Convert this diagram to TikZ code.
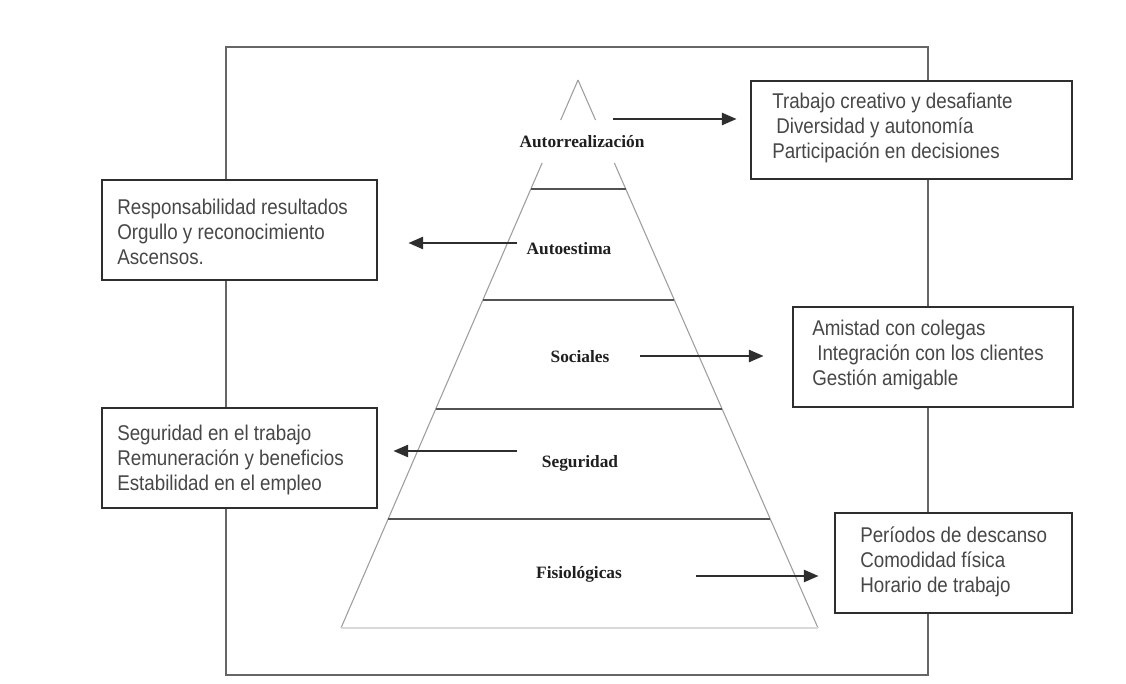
\documentclass[tikz,border=0pt]{standalone}
\usepackage{fontspec}
\setmainfont{Liberation Serif}
\newfontfamily\boxfont[FakeStretch=0.88]{Liberation Sans}
\usetikzlibrary{arrows.meta,calc}

\begin{document}
\begin{tikzpicture}[x=0.75pt,y=-0.75pt,
  outerframe/.style={draw=black!60, line width=1.7pt},
  side/.style={draw=black!38, line width=0.8pt},
  divider/.style={draw=black!68, line width=1.6pt},
  groundline/.style={draw=black!15, line width=1.8pt},
  levellabel/.style={font=\fontsize{13pt}{15pt}\selectfont\bfseries, text=black!88, inner sep=0pt},
  needbox/.style={draw=black!82, line width=2.1pt, fill=white, inner sep=0pt},
  needtext/.style={font=\boxfont\fontsize{16pt}{19pt}\selectfont, text=black!72, align=left, inner sep=0pt, anchor=west},
  arr/.style={draw=black!82, line width=1.8pt, -{Triangle[length=11pt,width=9pt]}},
]
\useasboundingbox (0,0) rectangle (1126,684);
\fill[white] (0,0) rectangle (1126,684);

% outer frame
\draw[outerframe] (226,47) rectangle (928,675);

% pyramid
\coordinate (apex) at (578,80);
\coordinate (bl) at (341,628);
\coordinate (br) at (818,628);
\draw[side] (apex) -- ($(apex)!0.073!(bl)$);
\draw[side] ($(apex)!0.1515!(bl)$) -- (bl);
\draw[side] (apex) -- ($(apex)!0.073!(br)$);
\draw[side] ($(apex)!0.1515!(br)$) -- (br);
\draw[groundline] (bl) -- (br);
\foreach \t in {0.1989,0.4015,0.6004,0.8011}
  \draw[divider] ($(apex)!\t!(bl)$) -- ($(apex)!\t!(br)$);

% boxes with the needs of each level
\node[needbox, minimum width=240.75pt, minimum height=73.5pt] (b1) at (911.5,130) {};
\node[needtext] (t1) at (772,128) {Trabajo creativo y desafiante\\\hspace{3pt}Diversidad y autonomía\\Participación en decisiones};

\node[needbox, minimum width=206.25pt, minimum height=75pt] (b2) at (239.5,230) {};
\node[needtext] (t2) at (117,232) {Responsabilidad resultados\\Orgullo y reconocimiento\\Ascensos.};

\node[needbox, minimum width=210pt, minimum height=75pt] (b3) at (933,357) {};
\node[needtext] (t3) at (812,355) {Amistad con colegas\\\hspace{3.75pt}Integración con los clientes\\Gestión amigable};

\node[needbox, minimum width=206.25pt, minimum height=75pt] (b4) at (239.5,458) {};
\node[needtext] (t4) at (117,460) {Seguridad en el trabajo\\Remuneración y beneficios\\Estabilidad en el empleo};

\node[needbox, minimum width=177.75pt, minimum height=75pt] (b5) at (953.5,563) {};
\node[needtext] (t5) at (860,562) {Períodos de descanso\\Comodidad física\\Horario de trabajo};

% level labels
\node[levellabel] (l1) at (582,142) {Autorrealización};
\node[levellabel] (l2) at (569,249) {Autoestima};
\node[levellabel] (l3) at (580,357) {Sociales};
\node[levellabel] (l4) at (580,463) {Seguridad};
\node[levellabel] (l5) at (579,574) {Fisiológicas};

% arrows from levels to boxes
\coordinate (s1) at (613,119);
\coordinate (s2) at (517,243);
\coordinate (s3) at (640,356);
\coordinate (s4) at (517,451);
\coordinate (s5) at (696,576);
\draw[arr, shorten >=9.75pt] (s1) -- (s1 -| b1.west);
\draw[arr, shorten >=22.5pt] (s2) -- (s2 -| b2.east);
\draw[arr, shorten >=21pt] (s3) -- (s3 -| b3.west);
\draw[arr, shorten >=11.25pt] (s4) -- (s4 -| b4.east);
\draw[arr, shorten >=11.25pt] (s5) -- (s5 -| b5.west);
\end{tikzpicture}
\end{document}
